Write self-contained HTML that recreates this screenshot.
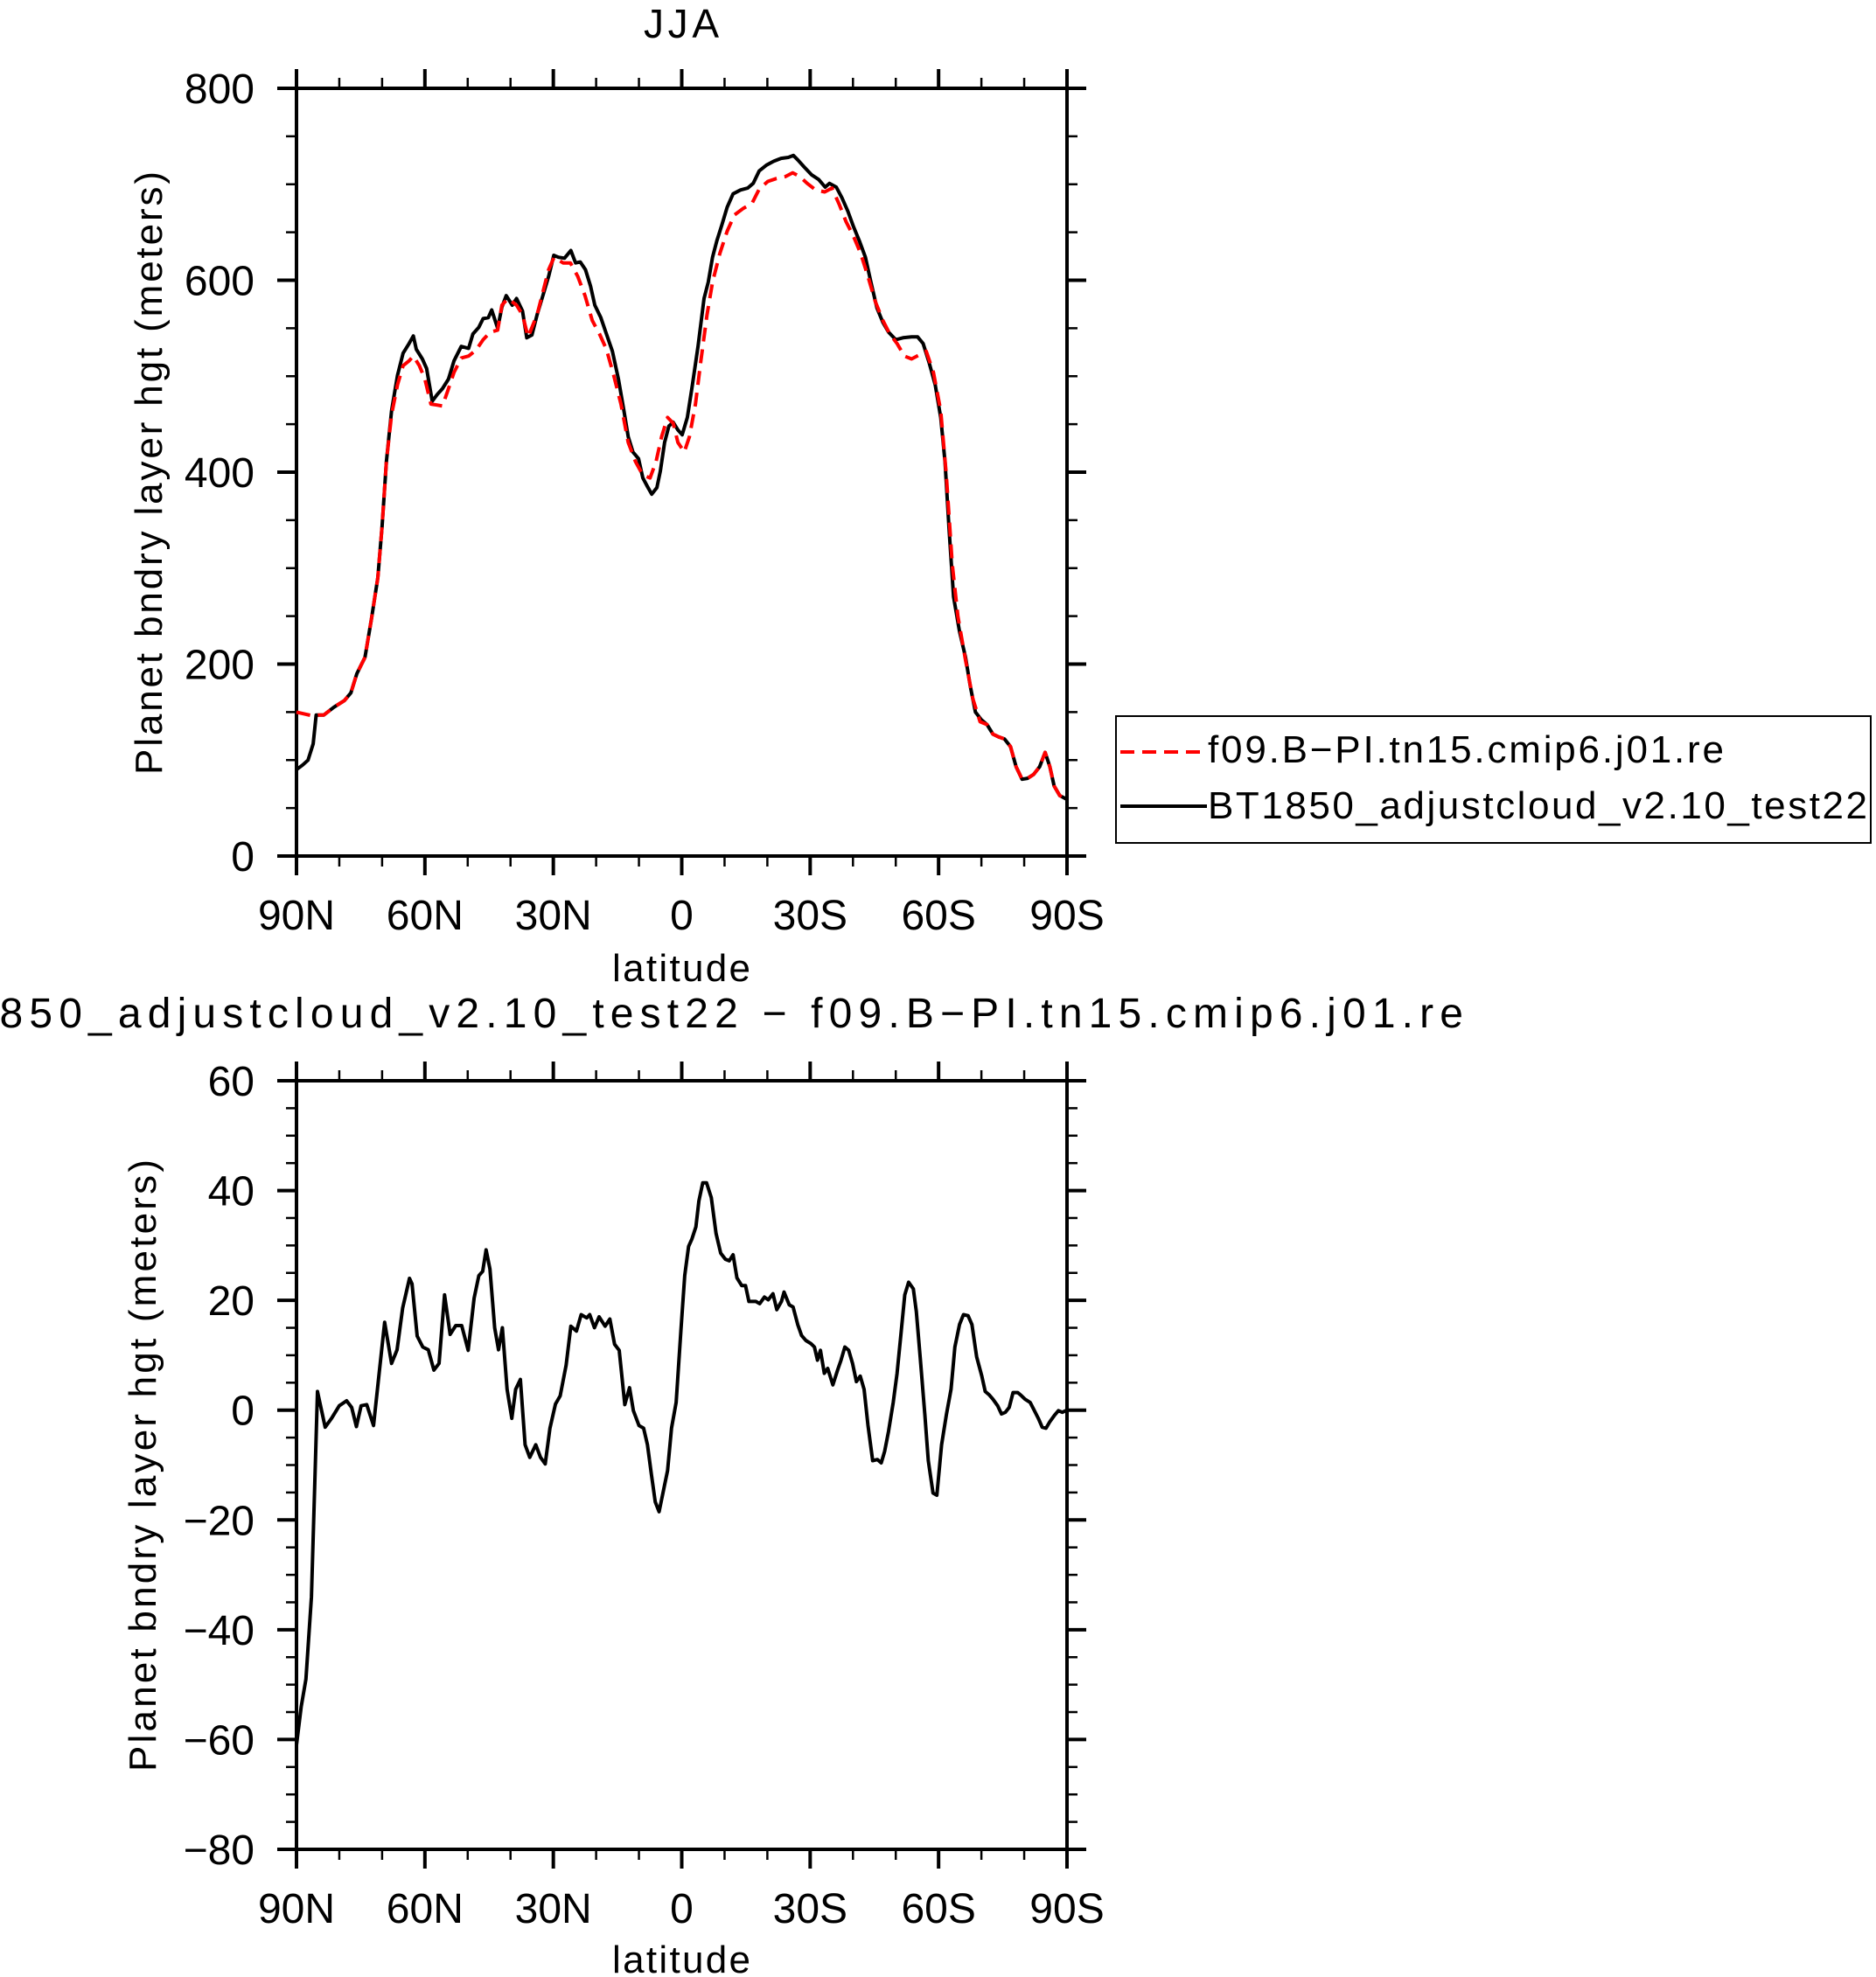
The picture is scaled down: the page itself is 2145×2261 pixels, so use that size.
<!DOCTYPE html>
<html><head><meta charset="utf-8"><style>
html,body{margin:0;padding:0;background:#fff;}
svg{display:block;font-family:"Liberation Sans",sans-serif;}
</style></head><body>
<svg id="fig" width="2145" height="2261" viewBox="0 0 2145 2261" xmlns="http://www.w3.org/2000/svg">
<text x="779" y="43" font-size="46" text-anchor="middle" textLength="86">JJA</text>
<text x="0" y="0" font-size="44" text-anchor="middle" textLength="690" transform="translate(185,541) rotate(-90)">Planet bndry layer hgt (meters)</text>
<text x="779" y="1122" font-size="44" text-anchor="middle" textLength="158">latitude</text>
<text x="-110" y="1175" font-size="48" textLength="1783">BT1850_adjustcloud_v2.10_test22 − f09.B−PI.tn15.cmip6.j01.re</text>
<text x="0" y="0" font-size="44" text-anchor="middle" textLength="700" transform="translate(178,1676) rotate(-90)">Planet bndry layer hgt (meters)</text>
<text x="779" y="2256" font-size="44" text-anchor="middle" textLength="158">latitude</text>
<g>
<rect x="1276" y="819" width="863" height="145" fill="none" stroke="#000" stroke-width="2"/>
<line x1="1281" y1="860" x2="1380" y2="860" stroke="#f00" stroke-width="4" stroke-dasharray="16,9"/>
<text x="1381" y="872" font-size="44" textLength="590">f09.B−PI.tn15.cmip6.j01.re</text>
<line x1="1281" y1="922" x2="1380" y2="922" stroke="#000" stroke-width="4"/>
<text x="1381" y="936" font-size="44" textLength="754">BT1850_adjustcloud_v2.10_test22</text>
</g>
</svg>
<script>
const topLatBlack=[90,88.5,87.3,86.1,85.4,83.6,81.3,78.8,77.3,75.9,74,72.5,71,70,69,67.8,66.4,65.1,63.7,62.7,62,60.6,59.6,58.3,57.1,55.9,54.5,53.2,51.5,49.8,48.8,47.4,46.4,45.2,44.4,43,42,41,39.6,38.6,37.2,36.2,35,33.8,32.5,31.1,29.9,28.8,27.4,25.9,24.8,23.7,22.5,21.3,20.3,18.9,17.6,16.2,14.8,13.5,12.5,11.4,10.1,9.1,8,7,5.8,5,4,3,2,0.9,-0.1,-1.3,-2.5,-3.8,-5.2,-6.2,-7.2,-8.2,-9.4,-10.6,-12,-13.7,-15.4,-16.7,-18.1,-19.8,-21.5,-23.2,-24.9,-26.1,-27.2,-28.6,-30.3,-32,-33.5,-34.5,-36.1,-37.4,-38.8,-40.1,-41.5,-42.9,-44.2,-45.6,-47,-48.3,-50,-51.7,-53.7,-55.1,-56.4,-57.8,-59.2,-60.5,-61.5,-62.5,-63.5,-64.9,-66.3,-67.4,-68.6,-70,-71.3,-72.7,-74.1,-75.4,-76.8,-78.1,-79.5,-80.8,-82.2,-83.6,-84.9,-86,-87,-88.3,-90];
const topValBlack=[90,95,100,117,147,147,155,162,170,190,207,247,290,344,411,464,501,524,534,542,528,518,508,474,481,487,497,516,531,529,544,551,560,561,569,550,572,584,574,581,568,540,543,564,583,604,626,624,623,631,618,619,611,594,574,561,544,526,497,464,437,421,414,394,385,377,384,401,431,448,452,444,439,457,491,531,581,598,624,641,658,676,690,694,696,701,714,720,724,727,728,730,725,718,710,705,697,701,697,686,672,656,641,624,598,571,556,546,538,540,541,541,534,514,491,457,411,337,270,234,207,177,150,142,137,127,124,122,114,93,80,81,85,93,108,93,73,63,59];
const topLatRed=[90,88.1,86.1,84.7,83.6,81.3,78.8,77.3,75.9,74,72.5,71,70,69,67.8,66.4,65.1,63.7,62.7,61.3,60,58.6,57.2,55.9,54.5,53.2,51.5,49.8,48.1,46.4,44.7,43,42,40.6,38.6,37.2,35.9,33.8,31.1,29.8,27.7,26,24.3,22.6,20.9,19.2,17.6,15.9,14.2,12.5,10.8,9.1,7.4,6,4.7,3.3,2,0.9,-0.6,-1.8,-3.2,-4.5,-5.9,-7.2,-8.9,-10.6,-12.3,-14.4,-16.4,-18.1,-20.1,-22.1,-24.2,-25.9,-27.6,-29.3,-31.3,-33.4,-35.1,-36.8,-38.4,-40.1,-41.8,-43.5,-45.2,-47,-48.6,-50.3,-52,-53.7,-55.4,-57.1,-58.8,-60.5,-61.8,-63.2,-64.5,-66.3,-68,-69.7,-71.3,-72.7,-74.1,-75.4,-76.8,-78.1,-79.5,-80.8,-82.2,-83.6,-84.9,-86,-87,-88.3,-90];
const topValRed=[150,148,146,147,147,155,162,170,190,207,247,290,344,411,460,491,511,516,521,511,497,471,470,469,487,504,519,521,527,538,546,548,574,581,574,564,541,564,611,624,618,618,604,584,558,544,528,501,471,431,411,397,394,411,437,457,451,431,421,437,471,517,564,598,628,651,668,675,680,695,703,706,708,712,708,701,694,692,696,679,661,646,628,604,578,558,544,534,521,518,522,526,504,464,397,304,250,204,164,140,137,127,124,122,114,93,80,81,85,93,108,93,73,63,59];
const topYTicks=[0,200,400,600,800];
const xTickLats=[90,60,30,0,-30,-60,-90];
const xTickLabels=["90N","60N","30N","0","30S","60S","90S"];
const diffLat=[90,88.9,87.8,86.5,85.1,83.3,81.8,80,78.3,77.1,76,74.9,73.6,72,70.7,69.4,67.8,66.5,65.2,63.6,63,61.8,60.5,59.2,57.9,56.7,55.4,54.1,52.8,51.4,49.9,48.5,47.4,46.5,45.7,44.8,43.7,42.8,41.9,40.8,39.7,38.8,37.7,36.6,35.5,34.1,33,31.9,30.8,29.5,28.4,27,25.9,24.6,23.5,22.2,21.5,20.4,19.3,17.9,16.8,15.7,14.6,13.3,12.2,11.3,10,8.9,8,7.1,6.2,5.3,4.4,3.3,2.4,1.3,0.2,-0.7,-1.6,-2.4,-3.3,-4,-4.9,-5.8,-6.9,-8,-9.1,-10.2,-11.1,-12,-12.9,-14,-14.9,-15.7,-17.3,-18.2,-19.3,-20.2,-21.3,-22.2,-23.3,-23.9,-25.1,-26,-27.1,-28,-29,-30.2,-31,-31.7,-32.4,-33.3,-34.1,-35.3,-36.4,-37.2,-38.1,-39,-39.9,-40.8,-41.7,-42.6,-43.5,-44.6,-45.7,-46.6,-47.4,-48.3,-49.4,-50.3,-51.2,-52.1,-53,-54.1,-54.8,-55.7,-56.8,-57.6,-58.7,-59.6,-60.7,-61.8,-62.9,-63.8,-64.9,-65.8,-66.9,-67.8,-68.9,-70.1,-70.9,-71.8,-72.7,-73.8,-74.7,-75.6,-76.5,-77.4,-78.5,-79.4,-80.2,-81.4,-82.2,-83.3,-84.2,-85.1,-86,-87.1,-88,-88.9,-90];
const diffVal=[-61,-54,-49,-34,3.4,-3.1,-1.5,0.8,1.7,0.5,-3,0.8,1,-2.8,6.7,16,8.5,11,18.6,24,23,13.5,11.5,11,7.3,8.5,21,13.8,15.4,15.4,10.9,20.4,24.5,25.3,29.2,25.7,15,11,15,3.8,-1.5,3.8,5.6,-6.3,-8.6,-6.3,-8.6,-9.8,-3.3,1.1,2.6,8.2,15.3,14.4,17.4,16.8,17.4,15,17,15.3,16.6,12,10.9,1,4.1,-0.1,-2.8,-3.3,-6.3,-11.6,-16.7,-18.5,-15.1,-11,-3.3,1.4,14.4,24.5,29.8,31.2,33.4,38.1,41.4,41.4,38.7,32.2,28.6,27.5,27.2,28.3,24.1,22.7,22.7,19.8,19.8,19.4,20.6,20.1,21.2,18.3,19.8,21.5,19.2,18.8,15.6,13.6,12.7,12.1,11.5,9.1,10.9,6.7,7.6,4.6,7.3,9.1,11.5,10.9,8.5,5.2,6.2,3.8,-2.7,-9.2,-9,-9.6,-7.5,-3.9,1.4,6.7,13.8,21,23.3,22.1,18,9.7,-0.9,-9.2,-15.1,-15.5,-6.3,-0.9,3.8,11.5,15.6,17.4,17.2,15.6,9.7,6.2,3.4,2.8,2,0.8,-0.7,-0.4,0.5,3.2,3.2,2.6,2,1.4,0.2,-1.5,-3.1,-3.3,-2.1,-0.9,-0.1,-0.4,0];
const botYTicks=[-80,-60,-40,-20,0,20,40,60];

const NS="http://www.w3.org/2000/svg";
const svg=document.getElementById('fig');
function mk(tag,attrs,parent){const e=document.createElementNS(NS,tag);for(const k in attrs)e.setAttribute(k,attrs[k]);(parent||svg).appendChild(e);return e;}

function drawPanel(prefix,L,R,T,B,ymin,ymax,yMajor,yMinorStep,yTicks){
  const xs=lat=>L+(90-lat)/180*(R-L);
  const ys=v=>B-(v-ymin)/(ymax-ymin)*(B-T);
  const g=mk('g',{});
  
  
  const MJ=22,MN=12;
  for(let lat=-90;lat<=90;lat+=10){
    const major=lat%30===0;const len=major?MJ:MN;const x=xs(lat);
    const t1=mk('line',{x1:x,y1:B,x2:x,y2:B+len,stroke:'#000','stroke-width':major?4:2.5},g);
    
    
    const t2=mk('line',{x1:x,y1:T,x2:x,y2:T-len,stroke:'#000','stroke-width':major?4:2.5},g);
    
    
  }
  for(let v=ymin;v<=ymax+1e-9;v+=yMinorStep){
    const major=Math.abs(((v-ymin)/yMajor)-Math.round((v-ymin)/yMajor))<1e-6;const len=major?MJ:MN;const y=ys(v);
    const t1=mk('line',{x1:L,y1:y,x2:L-len,y2:y,stroke:'#000','stroke-width':major?4:2.5},g);
    
    
    const t2=mk('line',{x1:R,y1:y,x2:R+len,y2:y,stroke:'#000','stroke-width':major?4:2.5},g);
    
    
  }
  const fr=mk('rect',{x:L,y:T,width:R-L,height:B-T,fill:'none',stroke:'#000','stroke-width':4},g);
  
  
  xTickLats.forEach((lat,i)=>{
    const t=mk('text',{x:xs(lat),y:B+84,'font-size':48,'text-anchor':'middle'},g);
    t.textContent=xTickLabels[i];
    
    
  });
  yTicks.forEach(v=>{
    const t=mk('text',{x:L-48,y:ys(v)+17,'font-size':48,'text-anchor':'end'},g);
    t.textContent=(v<0?'−'+(-v):String(v));
    
    
  });
  return {xs,ys};
}
function series(lats,vals,ax,attrs,name){
  const d=lats.map((l,i)=>(i?'L':'M')+ax.xs(l).toFixed(1)+','+ax.ys(vals[i]).toFixed(1)).join('');
  const p=mk('path',Object.assign({d:d,fill:'none','stroke-linejoin':'round'},attrs));
  
  
}
const ax1=drawPanel('top',339,1220,101,979,0,800,200,50,topYTicks);
series(topLatBlack,topValBlack,ax1,{stroke:'#000','stroke-width':4},'series-bt1850-line');
series(topLatRed,topValRed,ax1,{stroke:'#f00','stroke-width':4,'stroke-dasharray':'16,9'},'series-f09-line');
const ax2=drawPanel('bottom',339,1220,1236,2115,-80,60,20,5,botYTicks);
series(diffLat,diffVal,ax2,{stroke:'#000','stroke-width':4},'series-difference-line');
</script>
</body></html>
